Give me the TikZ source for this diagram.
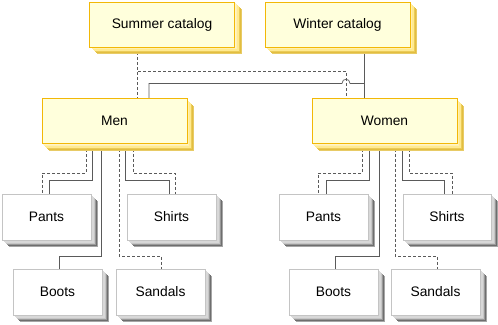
\documentclass[tikz,border=0pt]{standalone}
\usepackage{fontspec}
\setmainfont{Liberation Sans}
\usepackage{tikz}
\usetikzlibrary{positioning,calc,shadows,backgrounds}
\definecolor{catfill}{HTML}{FFFFDC}
\definecolor{catedge}{HTML}{F2B807}
\definecolor{catshadein}{HTML}{FFEA90}
\definecolor{catshadeout}{HTML}{E2BE40}
\definecolor{itemedge}{HTML}{C4C4C4}
\definecolor{itemshadein}{HTML}{D8D8D8}
\definecolor{itemshadeout}{HTML}{6E6E6E}
\definecolor{linkgray}{HTML}{5A5A5A}

\begin{document}
\begin{tikzpicture}[x=1pt, y=-1pt,
    layer/.style 2 args={general shadow={fill=#1, shadow xshift=#2pt, shadow yshift=-#2pt}},
    catbox/.style={draw=catedge, fill=catfill, line width=0.8pt, inner sep=0pt,
        minimum width=145pt, minimum height=45pt, font=\fontsize{13.8}{16}\selectfont,
        layer={catshadeout!80!white}{7}, layer={catshadeout}{6}, layer={catshadeout!70!catshadein}{5},
        layer={catshadein}{4}, layer={catshadein}{3}, layer={catshadein!70!white}{2}, layer={catshadein!50!white}{1}},
    itembox/.style={draw=itemedge, fill=white, line width=0.8pt, inner sep=0pt,
        minimum width=89pt, minimum height=46pt, font=\fontsize{13.8}{16}\selectfont,
        layer={gray!70}{7}, layer={itemshadeout}{6}, layer={itemshadeout!70!white}{5},
        layer={gray!45}{4}, layer={itemshadein}{3}, layer={itemshadein}{2}, layer={itemshadein!60!white}{1}},
    sline/.style={draw=linkgray, line width=0.7pt},
    dline/.style={draw=linkgray, line width=0.6pt, dash pattern=on 3pt off 2pt}]

\useasboundingbox (0,0) rectangle (498,324);

% Catalogs
\node[catbox] (summer) at (162,24.5) {Summer catalog};
\node[catbox] (winter) at (337.5,24.5) {Winter catalog};

% Departments
\node[catbox] (men) at (114.5,121) {Men};
\node[catbox] (women) at (384.5,121) {Women};

% Items, men
\node[itembox] (pantsM) at (46.5,217) {Pants};
\node[itembox] (shirtsM) at (171.5,217) {Shirts};
\node[itembox] (bootsM) at (57.5,292) {Boots};
\node[itembox] (sandalsM) at (160.5,292) {Sandals};

% Items, women
\node[itembox] (pantsW) at (323.5,217) {Pants};
\node[itembox, minimum width=88pt] (shirtsW) at (447,217) {Shirts};
\node[itembox] (bootsW) at (333.5,292) {Boots};
\node[itembox] (sandalsW) at (435.5,292) {Sandals};

\begin{scope}[on background layer]
% Catalogs to departments
\draw[dline] ([xshift=-25pt]summer.south) -- ([xshift=-25pt]summer.south |- men.north);
\draw[dline] ([xshift=-25pt]summer.south) -- ++(0,24) -| ([xshift=-38.5pt]women.north);
\draw[sline] ([xshift=26.5pt]winter.south) -- ([xshift=26.5pt]winter.south |- women.north);
\path ([xshift=26.5pt]winter.south) ++(0,36) coordinate (wj);
\coordinate (hop) at ([xshift=-38.5pt]women.north |- wj);
\draw[sline] (wj) -- ($(hop)+(4,0)$) .. controls +(0,-5.5) and +(0,-5.5) .. ($(hop)+(-4,0)$)
    -| ([xshift=34.5pt]men.north);

% Men to items
\draw[dline] ([xshift=-28.5pt]men.south) -- ++(0,29) -| ([xshift=-4.5pt]pantsM.north);
\draw[sline] ([xshift=-22.5pt]men.south) -- ++(0,36) -| ([xshift=2.5pt]pantsM.north);
\draw[sline] ([xshift=-13.5pt]men.south) -- ++(0,112) -| ([xshift=1.5pt]bootsM.north);
\draw[dline] ([xshift=4.5pt]men.south) -- ++(0,112) -| ([xshift=0.5pt]sandalsM.north);
\draw[sline] ([xshift=10.5pt]men.south) -- ++(0,36) -| ([xshift=-2.5pt]shirtsM.north);
\draw[dline] ([xshift=18.5pt]men.south) -- ++(0,29) -| ([xshift=3.5pt]shirtsM.north);

% Women to items
\draw[dline] ([xshift=-22.5pt]women.south) -- ++(0,29) -| ([xshift=-5.5pt]pantsW.north);
\draw[sline] ([xshift=-15.5pt]women.south) -- ++(0,36) -| ([xshift=2.5pt]pantsW.north);
\draw[sline] ([xshift=-5.5pt]women.south) -- ++(0,112) -| ([xshift=1.5pt]bootsW.north);
\draw[dline] ([xshift=10.5pt]women.south) -- ++(0,112) -| ([xshift=1.5pt]sandalsW.north);
\draw[sline] ([xshift=17.5pt]women.south) -- ++(0,36) -| ([xshift=-3pt]shirtsW.north);
\draw[dline] ([xshift=24.5pt]women.south) -- ++(0,29) -| ([xshift=5pt]shirtsW.north);
\end{scope}

\end{tikzpicture}
\end{document}
